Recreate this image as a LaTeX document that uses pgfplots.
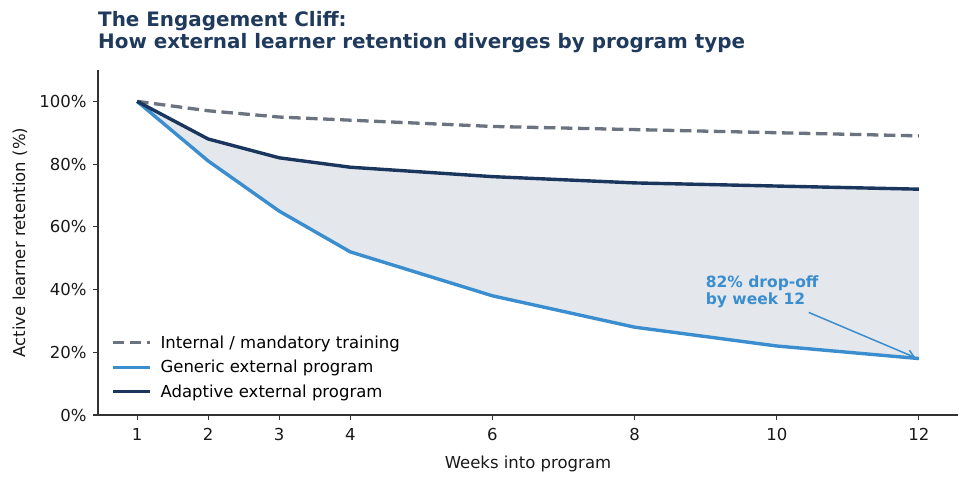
\documentclass[border=0pt]{standalone}
\usepackage{pgfplots}
\pgfplotsset{compat=1.18}
\usetikzlibrary{arrows.meta}
\usepackage{fontspec}
\setmainfont{DejaVu Sans}

\definecolor{internalgray}{HTML}{6B7280}
\definecolor{genericblue}{HTML}{3A8DCE}
\definecolor{adaptivenavy}{HTML}{1B365D}
\definecolor{gapfill}{HTML}{E4E8EC}
\definecolor{axisgray}{HTML}{333333}
\definecolor{titleblue}{HTML}{1F3A5C}

\begin{document}
\begin{tikzpicture}
\begin{axis}[
  scale only axis,
  width=860pt, height=345pt,
  xmin=0.45, xmax=12.55,
  ymin=0, ymax=110,
  axis lines=left,
  axis line style={-, axisgray, line width=1.2pt},
  xtick={1,2,3,4,6,8,10,12},
  ytick={0,20,40,60,80,100},
  yticklabel={\pgfmathprintnumber[fixed,precision=0]{\tick}\%},
  tick align=outside,
  major tick length=5pt,
  tick style={axisgray, line width=1.1pt},
  ticklabel style={font=\fontsize{16.5}{19}\selectfont, text=black!90},
  xticklabel style={yshift=-5pt},
  yticklabel style={xshift=-3pt},
  /pgf/number format/assume math mode=true,
  xlabel={Weeks into program},
  ylabel={Active learner retention (\%)},
  label style={font=\fontsize{16.5}{19}\selectfont, text=black!90},
  xlabel style={at={(rel axis cs:0.5,0)}, anchor=center, yshift=-49pt},
  ylabel style={at={(rel axis cs:0,0.5)}, anchor=center, yshift=78pt},
  legend cell align=left,
  legend image code/.code={\draw[#1] (0pt,0pt) -- (37pt,0pt);},
  legend style={draw=none, fill=none, font=\fontsize{16.5}{19}\selectfont,
    at={(rel axis cs:0,0)}, anchor=south west, xshift=10pt, yshift=12pt,
    row sep=6.5pt,
    /tikz/every odd column/.append style={column sep=7pt}},
]

% gap between the generic and adaptive curves (generic forward, adaptive back)
\addplot[draw=none, fill=gapfill, forget plot] coordinates {
  (1,100) (2,81) (3,65) (4,52) (6,38) (8,28) (10,22) (12,18)
  (12,72) (10,73) (8,74) (6,76) (4,79) (3,82) (2,88) (1,100)
} -- cycle;

\addplot[color=internalgray, line width=3.3pt, dash pattern=on 11.5pt off 5.5pt] coordinates {
  (1,100) (2,97) (3,95) (4,94) (6,92) (8,91) (10,90) (12,89)
};
\addlegendentry{Internal / mandatory training}

\addplot[color=genericblue, line width=3.4pt] coordinates {
  (1,100) (2,81) (3,65) (4,52) (6,38) (8,28) (10,22) (12,18)
};
\addlegendentry{Generic external program}

\addplot[color=adaptivenavy, line width=3.4pt] coordinates {
  (1,100) (2,88) (3,82) (4,79) (6,76) (8,74) (10,73) (12,72)
};
\addlegendentry{Adaptive external program}

% callout for the generic program's final value
\node[anchor=west, inner sep=0pt, align=left, text=genericblue,
  font=\fontsize{15.5}{17}\selectfont\bfseries] at (axis cs:9,39.3)
  {82\% drop-off\\by week 12};
\draw[genericblue, line width=1.5pt, -{Straight Barb[length=7pt, width=9pt]}]
  (axis cs:10.45,32.7) -- (axis cs:11.95,18.3);

\end{axis}

% titles
\node[anchor=base west, inner sep=0pt, text=titleblue,
  font=\fontsize{19.9}{23}\selectfont\bfseries]
  at ([yshift=43pt]current axis.north west) {The Engagement Cliff:};
\node[anchor=base west, inner sep=0pt, text=titleblue,
  font=\fontsize{19.9}{23}\selectfont\bfseries]
  at ([yshift=21pt]current axis.north west) {How external learner retention diverges by program type};

\pgfresetboundingbox
\path[use as bounding box] ([shift={(-98pt,-72pt)}]current axis.south west)
  rectangle ++(972pt,487pt);
\end{tikzpicture}
\end{document}
